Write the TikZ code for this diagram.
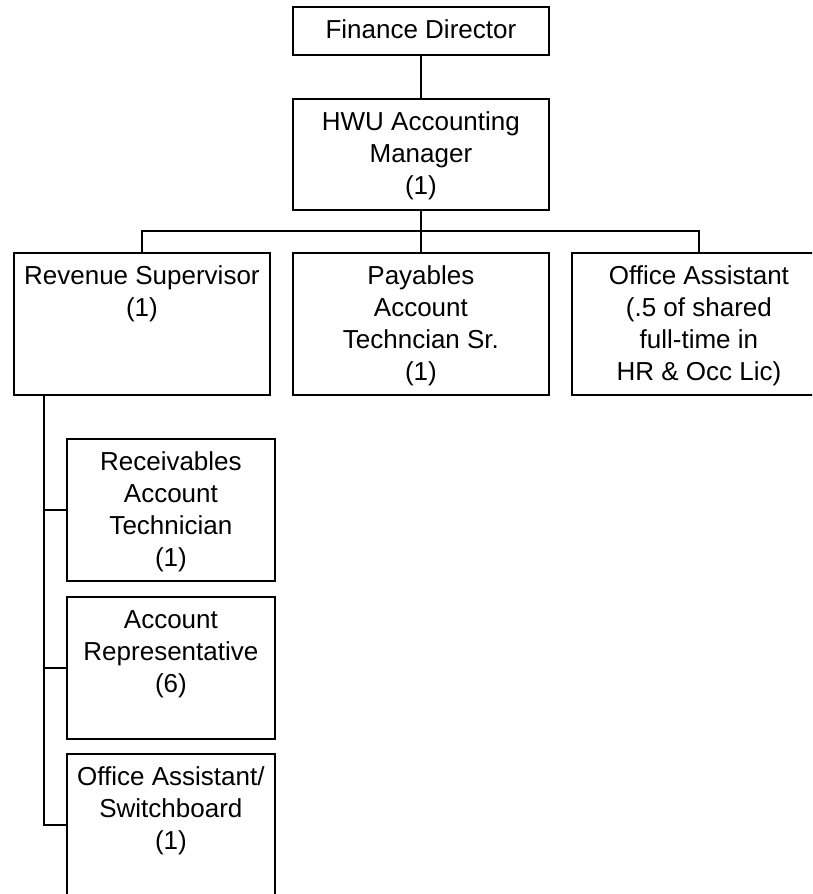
\documentclass[tikz,border=0pt]{standalone}
\usepackage{fontspec}
\setmainfont{Liberation Sans}
\begin{document}
\begin{tikzpicture}[x=1pt,y=-1pt,
  post/.style={draw, line width=1.8pt, rectangle, inner sep=0pt, anchor=north west},
  lbl/.style={anchor=base, inner sep=0pt, font=\fontsize{26}{32}\selectfont},
  link/.style={line width=1.8pt}]
\useasboundingbox (0,0) rectangle (812,894);
\clip (0,0) rectangle (812,894);

% boxes
\node[post, minimum width=256pt, minimum height=48pt]  (fd)  at (292,6)   {};
\node[post, minimum width=256pt, minimum height=111pt] (hwu) at (292,98)  {};
\node[post, minimum width=256pt, minimum height=142pt] (rev) at (13,252)  {};
\node[post, minimum width=256pt, minimum height=142pt] (pay) at (292,252) {};
\node[post, minimum width=254pt, minimum height=142pt] (off) at (571,252) {};
\node[post, minimum width=208pt, minimum height=142pt] (rec) at (66,438)  {};
\node[post, minimum width=208pt, minimum height=142pt] (ar)  at (66,596)  {};
\node[post, minimum width=208pt, minimum height=142pt] (oas) at (66,753)  {};

% labels
\newcommand{\lines}[1]{\begin{tabular}[t]{@{}c@{}}#1\end{tabular}}
\node[lbl] (fdt)  at ([yshift=-32pt]fd.north)  {\lines{Finance Director}};
\node[lbl] (hwut) at ([yshift=-32pt]hwu.north) {\lines{HWU Accounting\\Manager\\(1)}};
\node[lbl] (revt) at ([yshift=-32pt]rev.north) {\lines{Revenue Supervisor\\(1)}};
\node[lbl] (payt) at ([yshift=-32pt]pay.north) {\lines{Payables\\Account\\Techncian Sr.\\(1)}};
\node[lbl] (offt) at ([yshift=-32pt]off.north) {\lines{Office Assistant\\(.5 of shared\\full-time in\\HR \& Occ Lic)}};
\node[lbl] (rect) at ([yshift=-32pt]rec.north) {\lines{Receivables\\Account\\Technician\\(1)}};
\node[lbl] (art)  at ([yshift=-32pt]ar.north)  {\lines{Account\\Representative\\(6)}};
\node[lbl] (oast) at ([yshift=-32pt]oas.north) {\lines{Office Assistant/\\Switchboard\\(1)}};

% connectors
\coordinate (bus) at (420,231);
\coordinate (spine) at (44,394);
\draw[link] (fd.south) -- (hwu.north);
\draw[link] (hwu.south) -- (pay.north);
\draw[link] (rev.north) |- (bus) -| (off.north);
\draw[link] (spine) |- (rec.west);
\draw[link] (spine) |- (ar.west);
\draw[link] (spine) |- (oas.west);
\end{tikzpicture}
\end{document}
